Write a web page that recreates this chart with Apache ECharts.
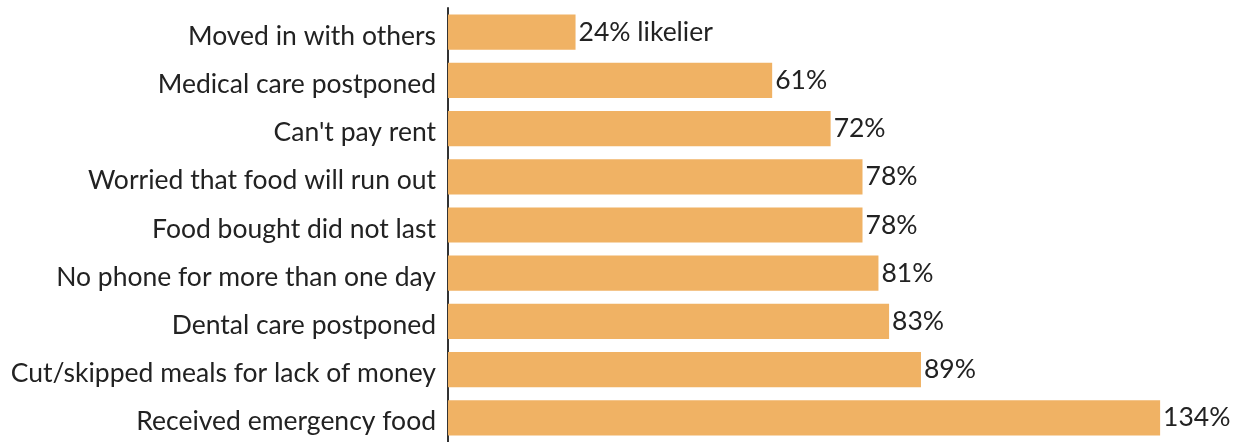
<!DOCTYPE html>
<html>
<head>
<meta charset="UTF-8">
<title>Hardship</title>
<style>
  html, body { margin: 0; padding: 0; background: #fff; }
  #container { width: 1234px; height: 442px; }
</style>
<script src="https://cdn.jsdelivr.net/npm/echarts@6/dist/echarts.min.js"></script>
</head>
<body>
<div id="container"></div>
<script>
// top to bottom, as in the picture
var categories = [
  'Moved in with others',
  'Medical care postponed',
  "Can't pay rent",
  'Worried that food will run out',
  'Food bought did not last',
  'No phone for more than one day',
  'Dental care postponed',
  'Cut/skipped meals for lack of money',
  'Received emergency food'
];
var values = [24, 61, 72, 78, 78, 81, 83, 89, 134];

var chart = echarts.init(document.getElementById('container'));

var option = {
  animation: false,
  grid: { left: 448, top: 8, width: 744, bottom: 0, containLabel: false },
  xAxis: {
    type: 'value',
    min: 0,
    max: 140,
    show: false
  },
  yAxis: {
    type: 'category',
    inverse: true,
    data: categories,
    axisLine: { show: true, lineStyle: { color: '#333', width: 2 } },
    axisTick: { show: false },
    axisLabel: {
      margin: 12,
      formatter: function (v) { return '{t|' + v + '}'; },
      rich: {
        t: {
          fontFamily: 'Lato',
          fontSize: 26.5,
          color: '#222',
          padding: [8, 0, 0, 0]
        }
      }
    }
  },
  series: [{
    type: 'bar',
    data: values,
    barCategoryGap: '27%',
    itemStyle: { color: '#f0b264' },
    label: {
      show: true,
      position: 'right',
      distance: 3,
      fontFamily: 'Lato',
      fontSize: 26.5,
      color: '#222',
      padding: [2, 0, 0, 0],
      formatter: function (p) {
        return p.dataIndex === 0 ? p.value + '% likelier' : p.value + '%';
      }
    }
  }]
};

chart.setOption(option);
</script>
</body>
</html>
